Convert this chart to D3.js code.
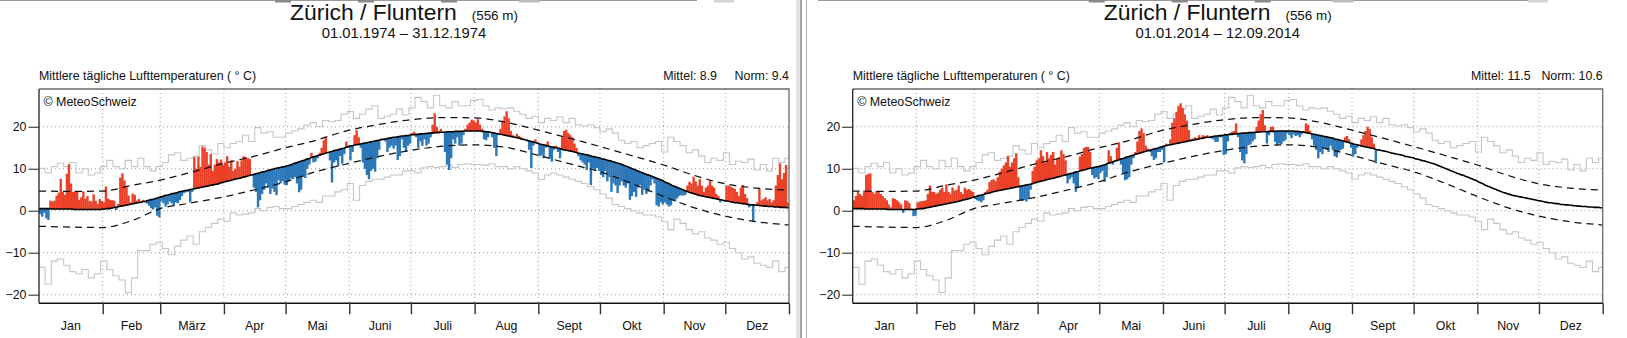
<!DOCTYPE html>
<html><head><meta charset="utf-8">
<script src="https://cdn.jsdelivr.net/npm/d3@7"></script>
<style>
body{margin:0;background:#fff}
svg{display:block}
text{font-family:"Liberation Sans",Arial,Helvetica,sans-serif;fill:#111}
</style>
</head><body>
<svg id="c" width="1627" height="338"></svg>
<script>
// ---------- DATA ----------
const months = ["Jan","Feb","März","Apr","Mai","Juni","Juli","Aug","Sept","Okt","Nov","Dez"];
const monthDays = [31,28,31,30,31,30,31,31,30,31,30,31];
const yTicks = [-20,-10,0,10,20];

// daily norm (°C), per month
const normJan=[0.5,0.5,0.5,0.5,0.5,0.5,0.4,0.4,0.4,0.4,0.4,0.4,0.4,0.4,0.4,0.4,0.4,0.3,0.3,0.3,0.3,0.3,0.3,0.3,0.3,0.3,0.3,0.3,0.3,0.3,0.3];
const normFeb=[0.4,0.4,0.5,0.5,0.6,0.7,0.8,0.9,1.0,1.1,1.2,1.3,1.4,1.5,1.6,1.7,1.8,1.9,2.0,2.1,2.2,2.3,2.5,2.6,2.7,2.8,3.0,3.1];
const normMar=[3.3,3.4,3.6,3.7,3.8,4.0,4.1,4.2,4.3,4.5,4.6,4.7,4.8,4.9,5.0,5.1,5.2,5.3,5.4,5.5,5.6,5.7,5.8,5.9,6.0,6.1,6.2,6.3,6.4,6.6,6.7];
const normApr=[6.9,7.0,7.1,7.2,7.4,7.5,7.6,7.7,7.8,8.0,8.1,8.2,8.4,8.5,8.6,8.8,8.9,9.0,9.2,9.3,9.4,9.6,9.7,9.8,10.0,10.1,10.2,10.3,10.4,10.5];
const normMay=[10.6,10.8,10.9,11.1,11.3,11.4,11.6,11.8,11.9,12.1,12.3,12.4,12.6,12.8,12.9,13.1,13.2,13.4,13.5,13.7,13.8,14.0,14.1,14.3,14.4,14.5,14.7,14.8,14.9,15.1,15.2];
const normJun=[15.4,15.5,15.6,15.7,15.8,15.9,16.0,16.1,16.2,16.3,16.4,16.5,16.6,16.7,16.8,16.9,17.0,17.1,17.2,17.3,17.4,17.5,17.5,17.6,17.7,17.8,17.8,17.9,17.9,18.0];
const normJul=[18.1,18.1,18.2,18.2,18.3,18.3,18.4,18.4,18.5,18.5,18.5,18.6,18.6,18.6,18.7,18.7,18.7,18.8,18.8,18.8,18.8,18.9,18.9,18.9,18.9,19.0,19.0,19.0,19.0,19.0,19.0];
const normAug=[19.0,19.0,19.0,18.9,18.9,18.8,18.8,18.7,18.6,18.5,18.4,18.3,18.2,18.1,18.0,17.9,17.8,17.7,17.6,17.5,17.4,17.3,17.1,17.0,16.9,16.8,16.6,16.5,16.4,16.2,16.1];
const normSep=[15.9,15.8,15.7,15.6,15.4,15.3,15.2,15.1,15.0,14.9,14.8,14.6,14.5,14.4,14.3,14.2,14.1,14.0,13.8,13.7,13.6,13.5,13.4,13.3,13.2,13.0,12.9,12.8,12.7,12.6];
const normOct=[12.4,12.3,12.2,12.0,11.9,11.8,11.6,11.5,11.3,11.2,11.0,10.8,10.6,10.4,10.2,10.0,9.8,9.6,9.4,9.2,9.0,8.8,8.6,8.5,8.3,8.1,7.9,7.7,7.5,7.3,7.1];
const normNov=[6.8,6.6,6.4,6.1,5.9,5.7,5.5,5.3,5.1,4.9,4.7,4.5,4.3,4.2,4.0,3.9,3.7,3.6,3.5,3.4,3.3,3.2,3.1,3.0,2.9,2.8,2.7,2.6,2.5,2.4];
const normDec=[2.3,2.2,2.1,2.0,1.9,1.9,1.8,1.7,1.7,1.6,1.5,1.5,1.4,1.4,1.3,1.3,1.2,1.2,1.1,1.1,1.0,1.0,1.0,0.9,0.9,0.9,0.8,0.8,0.8,0.7,0.7];

// standard-deviation band (dashed), read at these days
const bandDays =[0,15,31,46,59,72,90,105,120,132,151,166,181,197,212,226,243,258,273,288,304,319,334,349,365];
const bandUpper=[4.7,4.6,4.7,6.1,7.3,8.9,11.3,13.0,15.0,16.4,19.2,20.6,21.7,22.2,22.1,21.2,19.2,17.3,15.3,13.2,10.9,8.4,6.4,5.4,4.9];
const bandLower=[-3.7,-3.9,-4.0,-2.2,0.5,1.7,3.3,5.0,6.9,8.9,11.3,13.0,14.4,15.4,15.7,15.2,13.2,11.2,9.3,6.6,3.4,0.7,-1.3,-2.6,-3.4];

// record extremes (grey step lines), one value every 3 days
const recordStep = 3;
const recordMax=[10.1,9.0,10.5,11.3,10.5,11.5,9.0,10.0,8.5,9.0,10.5,12.0,10.5,10.0,12.0,10.5,12.5,10.5,9.5,10.5,
11.5,13.3,13.8,12.0,12.5,13.0,15.5,14.5,13.5,16.0,15.0,16.0,16.5,18.0,16.5,19.8,18.5,18.8,17.5,17.5,
18.5,19.0,19.5,20.4,21.0,20.0,21.5,21.2,21.5,23.0,23.6,22.0,23.0,24.2,25.0,22.0,22.5,23.0,24.2,22.8,
24.5,27.0,26.0,24.5,27.5,25.0,24.5,26.0,25.0,25.0,26.3,26.5,25.0,24.0,24.5,24.3,24.5,23.7,23.0,22.0,
22.5,21.0,22.0,21.5,22.4,21.0,22.0,20.5,20.2,20.5,19.8,18.8,19.5,18.5,16.8,16.0,16.5,15.0,15.5,16.0,
16.5,14.0,17.5,16.5,15.5,13.8,14.5,13.0,11.5,12.5,12.0,13.8,11.0,11.8,11.5,12.3,9.7,11.0,9.5,12.5,
11.5,12.5];
const recordMin=[-13.5,-17.5,-12.0,-11.5,-13.0,-14.5,-15.0,-14.0,-16.0,-15.0,-12.0,-14.0,-15.5,-16.5,-19.5,-16.0,-9.5,-9.5,-8.0,-7.5,
-9.0,-10.5,-8.5,-7.0,-6.0,-8.0,-5.0,-4.0,-3.0,-2.0,-2.5,-0.5,-1.0,-0.8,-0.5,0.5,0.0,0.8,1.0,0.5,
0.5,1.0,1.5,2.0,2.5,2.0,3.5,3.5,4.5,5.0,6.5,2.5,6.0,7.0,7.5,7.5,8.0,8.5,8.5,9.5,
9.5,9.0,10.2,10.5,10.3,10.5,10.8,10.3,11.0,11.2,11.0,11.0,10.8,11.2,10.5,10.5,10.0,10.5,10.0,9.5,
9.0,7.5,8.5,9.0,8.5,8.0,7.5,7.0,6.5,5.7,5.0,4.0,3.0,1.5,1.0,0.5,0.0,-0.5,-1.0,-1.0,
-1.5,-2.5,-4.5,-2.0,-3.0,-4.5,-5.5,-5.0,-6.5,-7.0,-8.0,-7.5,-9.0,-10.0,-11.5,-11.0,-12.5,-13.0,-13.5,-12.0,
-14.5,-13.5];

// daily mean temperature 1974
const t74Jan=[-0.8,-1.4,-0.5,-1.8,-2.2,2.4,2.2,2.4,3.6,4.3,7.6,4.5,3.8,8.8,11.1,6.5,4.5,4.6,4.7,2.6,3.2,4.6,2.9,3.5,2.3,2.2,3.9,2.4,1.6,2.8,2.3];
const t74Feb=[2.0,5.8,2.9,2.6,2.5,2.4,0.2,1.6,7.9,8.9,7.2,5.6,3.6,2.0,4.1,3.8,2.4,2.8,2.2,2.6,2.0,1.7,1.2,0.6,0.3,0.8,-1.2,-1.6];
const t74Mar=[2.2,1.8,1.0,1.5,2.2,1.8,1.2,2.0,1.8,2.5,3.5,4.2,4.4,4.5,2.0,4.5,12.8,10.0,12.9,10.5,15.3,15.0,14.0,11.0,13.5,9.5,11.0,12.3,11.5,12.2,11.0];
const t74Apr=[11.5,13.0,10.5,12.0,9.5,10.0,11.8,10.5,12.0,13.0,12.8,12.5,12.3,8.5,5.5,4.5,0.8,2.5,4.0,5.0,6.5,5.5,4.0,5.3,4.5,3.7,7.3,6.5,7.0,6.2];
const t74May=[6.1,7.0,7.7,7.5,8.0,6.5,4.4,5.0,8.0,7.8,10.0,11.0,13.8,11.5,11.7,12.5,13.8,15.0,16.8,17.6,14.0,12.0,6.7,11.5,12.0,10.5,13.0,11.2,13.5,16.5,15.5];
const t74Jun=[12.0,14.0,18.0,19.2,17.5,15.0,11.5,10.0,8.5,7.5,9.5,10.0,9.3,12.5,14.5,17.2,17.0,16.5,14.0,15.0,15.5,14.8,15.5,12.1,13.0,17.0,15.0,14.0,15.5,16.0];
const t74Jul=[18.5,18.8,17.5,15.0,16.5,15.5,17.0,15.5,16.0,17.5,20.5,23.2,20.0,19.0,19.5,18.5,14.0,11.0,9.7,12.5,17.0,16.0,17.5,15.5,16.0,18.0,19.5,20.5,21.0,21.7,21.5];
const t74Aug=[21.0,21.8,20.5,19.5,17.0,16.8,17.5,18.5,17.5,15.0,13.0,18.0,19.5,21.5,22.5,23.7,22.0,19.0,18.0,17.5,18.3,17.8,17.5,17.2,17.0,16.5,14.5,10.2,15.5,17.0,16.3];
const t74Sep=[13.0,13.2,12.5,15.0,16.5,12.5,11.7,14.5,15.5,14.0,12.5,17.5,19.0,19.3,18.5,18.0,17.5,16.0,15.0,13.0,12.0,11.5,11.0,9.7,11.5,6.1,10.0,9.5,10.2,9.5];
const t74Oct=[8.5,8.0,9.5,7.0,8.0,4.5,6.5,6.0,4.2,6.0,7.0,6.0,5.5,6.5,2.6,3.5,4.5,3.3,5.5,6.1,3.8,5.0,4.0,4.5,6.0,7.5,6.5,1.3,1.0,2.0,1.5];
const t74Nov=[2.0,1.5,1.0,1.3,2.5,2.2,3.0,3.5,3.7,3.6,3.8,6.0,6.9,6.5,8.1,7.0,6.0,7.5,6.0,4.5,5.5,6.0,7.3,6.0,5.5,4.0,3.5,2.0,2.5,2.2];
const t74Dec=[6.0,6.0,5.8,5.5,5.2,4.5,3.5,5.5,6.1,4.0,3.0,0.8,1.2,-2.6,1.2,2.0,5.3,2.5,2.8,3.2,2.5,2.8,2.0,2.5,6.0,8.5,11.3,7.5,9.0,10.9,2.0];

// daily mean temperature 2014 (until 12.09.)
const t14Jan=[2.5,3.5,4.5,4.0,3.5,4.8,8.5,8.8,8.9,4.5,4.0,4.7,4.5,4.0,3.5,3.0,2.5,1.5,0.8,3.0,2.8,2.5,2.0,1.5,-0.5,2.5,2.3,1.8,0.5,-1.3,-1.2];
const t14Feb=[2.0,2.2,2.3,2.3,2.5,4.0,6.0,4.5,4.5,4.0,4.3,5.0,5.5,4.5,6.3,4.5,4.0,5.5,4.8,5.0,6.0,4.5,4.0,5.5,5.0,5.2,4.8,4.5];
const t14Mar=[2.8,2.5,2.3,2.0,2.5,4.5,5.0,6.8,7.3,7.5,7.0,8.0,9.3,10.0,10.8,11.5,13.0,10.5,11.5,12.5,13.7,8.0,2.5,2.3,2.5,2.2,2.8,5.0,9.5,10.5,12.0];
const t14Apr=[12.5,14.4,13.0,11.5,14.0,12.5,13.3,14.0,11.0,12.5,12.8,14.4,13.5,12.0,6.5,7.5,8.0,6.5,4.5,5.5,12.9,13.5,15.0,15.2,15.2,14.0,8.5,7.7,8.0,7.5];
const t14May=[9.0,9.5,6.9,8.0,14.4,13.0,11.0,12.0,15.0,16.3,11.0,9.0,7.3,7.5,8.0,11.0,12.5,14.0,16.5,19.0,19.6,18.5,15.5,14.8,14.0,13.0,12.1,12.5,14.0,14.0,14.5];
const t14Jun=[11.5,16.0,15.8,17.0,21.0,22.0,23.6,25.0,25.6,24.5,23.0,21.5,19.2,17.0,17.2,17.5,17.2,18.0,17.5,18.0,17.8,18.0,17.6,17.2,17.0,16.4,16.4,17.5,17.5,13.3];
const t14Jul=[13.5,16.5,18.5,18.8,19.0,20.8,17.5,14.0,12.0,11.3,13.5,15.6,15.8,16.5,17.0,20.0,21.5,23.0,24.0,20.4,16.0,18.0,20.0,20.0,16.4,15.6,16.0,15.8,16.5,16.8,18.5];
const t14Aug=[18.0,17.3,18.2,17.8,18.0,17.5,18.2,19.0,20.8,20.5,19.0,17.0,15.5,14.5,12.5,14.0,13.5,15.0,14.5,14.0,15.5,14.5,13.0,12.7,14.0,14.5,14.8,17.5,17.8,17.0,15.0];
const t14Sep=[12.9,13.5,15.0,15.5,17.0,18.0,19.0,20.0,19.5,17.5,16.0,11.3];

const norm = [].concat(normJan,normFeb,normMar,normApr,normMay,normJun,normJul,normAug,normSep,normOct,normNov,normDec);
const temp1974 = [].concat(t74Jan,t74Feb,t74Mar,t74Apr,t74May,t74Jun,t74Jul,t74Aug,t74Sep,t74Oct,t74Nov,t74Dec);
const temp2014 = [].concat(t14Jan,t14Feb,t14Mar,t14Apr,t14May,t14Jun,t14Jul,t14Aug,t14Sep);

const panels = [
  {station:"Zürich / Fluntern", altitude:"(556 m)", period:"01.01.1974 – 31.12.1974", mittel:"8.9", normTxt:"9.4", values:temp1974, offset:0},
  {station:"Zürich / Fluntern", altitude:"(556 m)", period:"01.01.2014 – 12.09.2014", mittel:"11.5", normTxt:"10.6", values:temp2014, offset:813.7}
];

// ---------- LAYOUT / STYLE ----------
const PX0=39, PX1=789, PY0=89, PY1=303.3, CENTER=404;
const RED="#eb4128", BLUE="#2b77b7", GREY="#c6c6c6";
const svg = d3.select("#c");

// top strip remnants + divider
const strip = svg.append("g");
[[0,697],[818,1530]].forEach(s=>strip.append("line").attr("x1",s[0]).attr("x2",s[1]).attr("y1",0.5).attr("y2",0.5).attr("stroke","#9a9a9a").attr("stroke-width",1.2));
[[275,16,"#888"],[358,16,"#888"],[441,16,"#888"],[519,21,"#bbb"],[714,20,"#d4d4d4"]].forEach(b=>{
  strip.append("rect").attr("x",b[0]).attr("y",0).attr("width",b[1]).attr("height",2.5).attr("fill",b[2]);
  strip.append("rect").attr("x",b[0]+813.7).attr("y",0).attr("width",b[1]).attr("height",2.5).attr("fill",b[2]);
});
svg.append("rect").attr("x",796).attr("y",0).attr("width",4.5).attr("height",338).attr("fill","#e4e4e4");
svg.append("line").attr("x1",801).attr("x2",801).attr("y1",0).attr("y2",338).attr("stroke","#8a8a8a").attr("stroke-width",1.5);
svg.append("line").attr("x1",806.5).attr("x2",806.5).attr("y1",0).attr("y2",338).attr("stroke","#b0b0b0").attr("stroke-width",1);

const monthStarts = d3.cumsum([0].concat(monthDays)); // 0..365
const monthMids = monthDays.map((d,i)=>monthStarts[i]+d/2);

panels.forEach((p,pi)=>{
  const g = svg.append("g").attr("transform",`translate(${p.offset},0)`);
  const x = d3.scaleLinear().domain([0,365]).range([PX0,PX1]);
  const y = d3.scaleLinear().domain([-22.05,29]).range([PY1,PY0]);

  // titles
  const t1 = g.append("text").attr("y",20).attr("font-size",22.9).text(p.station);
  const t2 = g.append("text").attr("y",20).attr("font-size",13.4).text(p.altitude);
  const w1 = t1.node().getComputedTextLength(), w2 = t2.node().getComputedTextLength();
  const start = CENTER - (w1+15+w2)/2;
  t1.attr("x",start); t2.attr("x",start+w1+15);
  g.append("text").attr("x",CENTER).attr("y",37.7).attr("text-anchor","middle").attr("font-size",14.8).text(p.period);

  g.append("text").attr("x",PX0).attr("y",79.5).attr("font-size",12.4).text("Mittlere tägliche Lufttemperaturen ( ° C)");
  g.append("text").attr("x",PX1).attr("y",79.5).attr("text-anchor","end").attr("font-size",12.4).text("Norm: "+p.normTxt);
  g.append("text").attr("x",PX1-72).attr("y",79.5).attr("text-anchor","end").attr("font-size",12.4).text("Mittel: "+p.mittel);

  // clip
  const cid = "clip"+pi;
  g.append("clipPath").attr("id",cid).append("rect").attr("x",PX0).attr("y",PY0).attr("width",PX1-PX0).attr("height",PY1-PY0);
  const plot = g.append("g").attr("clip-path",`url(#${cid})`);

  // dotted grid
  plot.append("g").selectAll("line").data(yTicks).join("line")
    .attr("x1",PX0).attr("x2",PX1).attr("y1",d=>y(d)).attr("y2",d=>y(d))
    .attr("stroke","#9a9a9a").attr("stroke-width",1).attr("stroke-dasharray","1,3");
  plot.append("g").selectAll("line").data(monthStarts.slice(1,12)).join("line")
    .attr("x1",d=>x(d)).attr("x2",d=>x(d)).attr("y1",PY0).attr("y2",PY1)
    .attr("stroke","#9a9a9a").attr("stroke-width",1).attr("stroke-dasharray","1,3");

  // record lines
  const stepLine = d3.line().curve(d3.curveStepAfter).x(d=>x(d[0])).y(d=>y(d[1]));
  [recordMax,recordMin].forEach(arr=>{
    const pts = arr.map((v,i)=>[i*recordStep,v]);
    pts.push([365,arr[arr.length-1]]);
    plot.append("path").attr("d",stepLine(pts)).attr("fill","none").attr("stroke",GREY).attr("stroke-width",1.1);
  });

  // daily bars relative to norm
  const bw = x(1)-x(0);
  plot.append("g").selectAll("rect").data(p.values).join("rect")
    .attr("x",(v,i)=>x(i)).attr("width",bw+0.35)
    .attr("y",(v,i)=>y(Math.max(v,norm[i])))
    .attr("height",(v,i)=>Math.abs(y(v)-y(norm[i])))
    .attr("fill",(v,i)=>v>=norm[i]?RED:BLUE);

  // band dashed lines
  const bandLine = d3.line().curve(d3.curveMonotoneX).x((d,i)=>x(bandDays[i])).y(d=>y(d));
  [bandUpper,bandLower].forEach(arr=>{
    plot.append("path").attr("d",bandLine(arr)).attr("fill","none").attr("stroke","#111")
      .attr("stroke-width",1.25).attr("stroke-dasharray","7,5");
  });

  // norm line
  const normLine = d3.line().curve(d3.curveMonotoneX).x((d,i)=>x(i*365/364)).y(d=>y(d));
  plot.append("path").attr("d",normLine(norm)).attr("fill","none").attr("stroke","#000").attr("stroke-width",1.6);

  // copyright
  g.append("text").attr("x",43.5).attr("y",105.5).attr("font-size",12.4).text("© MeteoSchweiz");

  // frame
  g.append("path").attr("d",`M${PX0},${PY0}H${PX1}V${PY1}`).attr("fill","none").attr("stroke","#6a6a6a").attr("stroke-width",1.3);

  // y axis
  const ya = g.append("g").attr("transform",`translate(${PX0},0)`)
    .call(d3.axisLeft(y).tickValues(yTicks).tickSize(10.5).tickPadding(2)
      .tickFormat(d=>d<0?"\u2212"+Math.abs(d):String(d)));
  ya.select(".domain").attr("stroke","#222").attr("stroke-width",1.3).attr("d",`M0,${PY0}V${PY1}`);
  ya.selectAll(".tick line").attr("stroke","#333").attr("stroke-width",1.1);
  ya.selectAll(".tick text").attr("font-size",12.4).attr("font-family","Liberation Sans, Arial, sans-serif").attr("fill","#111");

  // x axis (month boundaries)
  const xa = g.append("g").attr("transform",`translate(0,${PY1})`)
    .call(d3.axisBottom(x).tickValues(monthStarts.slice(1)).tickSize(11).tickFormat(""));
  xa.select(".domain").attr("stroke","#111").attr("stroke-width",1.5).attr("d",`M${PX0},0H${PX1}`);
  xa.selectAll(".tick line").attr("stroke","#333").attr("stroke-width",1.4);

  // month labels
  g.append("g").selectAll("text").data(months).join("text")
    .attr("x",(m,i)=>x(monthMids[i])).attr("y",330).attr("text-anchor","middle").attr("font-size",12.4).text(m=>m);
});
</script>
</body></html>
